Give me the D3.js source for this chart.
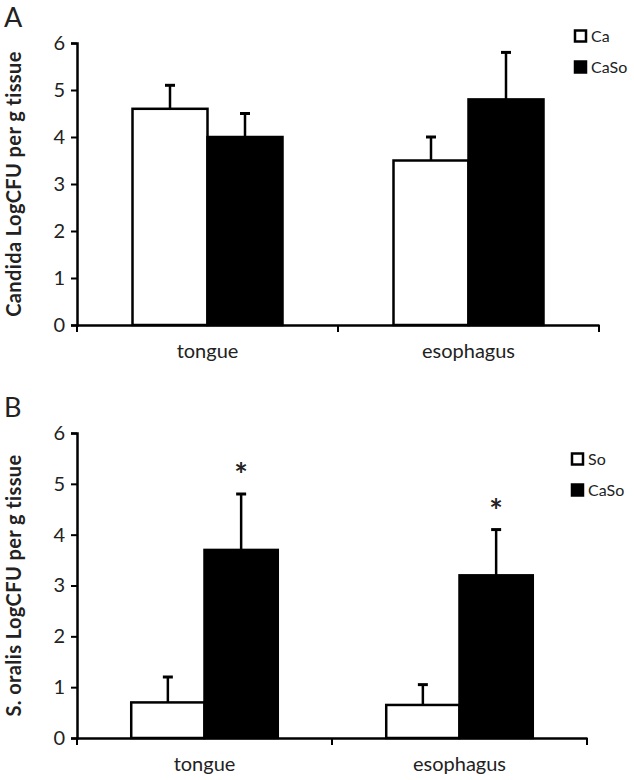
<!DOCTYPE html>
<html>
<head>
<meta charset="utf-8">
<script src="https://cdn.jsdelivr.net/npm/d3@7"></script>
<style>
  html, body { margin: 0; padding: 0; background: #fff; }
  svg { display: block; }
  text { font-family: Lato, "Open Sans", sans-serif; fill: #222; }
</style>
</head>
<body>
<svg id="chart" width="634" height="780"></svg>
<script>
// ---- data ----
const categories = ["tongue", "esophagus"];
const yTicks = [0, 1, 2, 3, 4, 5, 6];

const seriesA = ["Ca", "CaSo"];
const meanA_Ca = [4.6, 3.5];
const errA_Ca = [0.5, 0.5];
const meanA_CaSo = [4.0, 4.8];
const errA_CaSo = [0.5, 1.0];

const seriesB = ["So", "CaSo"];
const meanB_So = [0.7, 0.65];
const errB_So = [0.5, 0.4];
const meanB_CaSo = [3.7, 3.2];
const errB_CaSo = [1.1, 0.9];
const sigB_CaSo = [true, true];

const fills = ["#ffffff", "#000000"];

const svg = d3.select("#chart");

function panel(opt) {
  const g = svg.append("g");
  const y = d3.scaleLinear().domain([0, 6]).range([opt.bottom, opt.top]);
  const x = d3.scaleBand().domain(categories).range([opt.left, opt.right]).padding(0);
  const xs = d3.scaleBand().domain(opt.series).range([0, x.bandwidth()]).paddingInner(0).paddingOuter(0.74);

  // bars
  opt.series.forEach((s, si) => {
    const means = opt.means[si], errs = opt.errs[si];
    categories.forEach((c, ci) => {
      const x0 = x(c) + xs(s);
      const w = xs.bandwidth();
      const cx = x0 + w / 2;
      g.append("line")
        .attr("x1", cx).attr("x2", cx)
        .attr("y1", y(means[ci])).attr("y2", y(means[ci] + errs[ci]))
        .attr("stroke", "#000").attr("stroke-width", 2.5);
      g.append("line")
        .attr("x1", cx - 5).attr("x2", cx + 5)
        .attr("y1", y(means[ci] + errs[ci])).attr("y2", y(means[ci] + errs[ci]))
        .attr("stroke", "#000").attr("stroke-width", 3);
      g.append("rect")
        .attr("x", x0).attr("y", y(means[ci]))
        .attr("width", w).attr("height", y(0) - y(means[ci]))
        .attr("fill", fills[si]).attr("stroke", "#000").attr("stroke-width", 2.5);
      if (opt.sig && opt.sig[si] && opt.sig[si][ci]) {
        g.append("text")
          .attr("x", cx).attr("y", y(means[ci] + errs[ci]) - 7)
          .attr("text-anchor", "middle")
          .attr("font-size", 32).attr("font-weight", "bold")
          .text("*");
      }
    });
  });

  // y axis
  const ya = g.append("g").attr("transform", `translate(${opt.left},0)`)
    .call(d3.axisLeft(y).tickValues(yTicks).tickFormat(d3.format("d")).tickSize(6).tickPadding(6));
  ya.select(".domain").attr("stroke", "#000").attr("stroke-width", 2.5);
  ya.selectAll(".tick line").attr("stroke", "#000").attr("stroke-width", 2);
  ya.selectAll(".tick text").attr("font-size", 20).attr("font-family", "Lato, sans-serif").attr("fill", "#333");

  // x axis
  const xa = g.append("g").attr("transform", `translate(0,${opt.bottom})`)
    .call(d3.axisBottom(x).tickSize(0).tickPadding(19));
  xa.select(".domain").attr("stroke", "#000").attr("stroke-width", 2.5);
  xa.selectAll(".tick text").attr("font-size", 20).attr("font-family", "Lato, sans-serif").attr("fill", "#333");
  const bounds = categories.map(c => x(c)).concat([x.range()[1]]);
  g.selectAll(null).data(bounds).enter().append("line")
    .attr("x1", d => d).attr("x2", d => d)
    .attr("y1", opt.bottom).attr("y2", opt.bottom + 7)
    .attr("stroke", "#000").attr("stroke-width", 2);

  // y title
  g.append("text")
    .attr("transform", `translate(${opt.titleX},${(opt.top + opt.bottom) / 2}) rotate(-90)`)
    .attr("text-anchor", "middle")
    .attr("font-size", 20).attr("font-weight", "bold")
    .attr("letter-spacing", 0.4)
    .text(opt.title);

  // panel label
  g.append("text").attr("x", 4).attr("y", opt.labelY)
    .attr("font-size", 27).text(opt.label);

  // legend
  opt.series.forEach((s, si) => {
    const ly = opt.legendY + si * 31;
    g.append("rect").attr("x", opt.legendX).attr("y", ly - 5.5)
      .attr("width", 11).attr("height", 11)
      .attr("fill", fills[si]).attr("stroke", "#000").attr("stroke-width", 2.5);
    g.append("text").attr("x", opt.legendX + 16).attr("y", ly).attr("dy", "0.35em")
      .attr("font-size", 16).attr("fill", "#333").text(s);
  });
}

panel({
  top: 43, bottom: 325, left: 77, right: 599,
  series: seriesA, means: [meanA_Ca, meanA_CaSo], errs: [errA_Ca, errA_CaSo],
  title: "Candida LogCFU per g tissue", titleX: 21, label: "A", labelY: 27,
  legendX: 575, legendY: 36
});

panel({
  top: 433, bottom: 738, left: 77, right: 587,
  series: seriesB, means: [meanB_So, meanB_CaSo], errs: [errB_So, errB_CaSo],
  sig: [null, sigB_CaSo],
  title: "S. oralis LogCFU per g tissue", titleX: 21, label: "B", labelY: 417,
  legendX: 572, legendY: 459
});
</script>
</body>
</html>
